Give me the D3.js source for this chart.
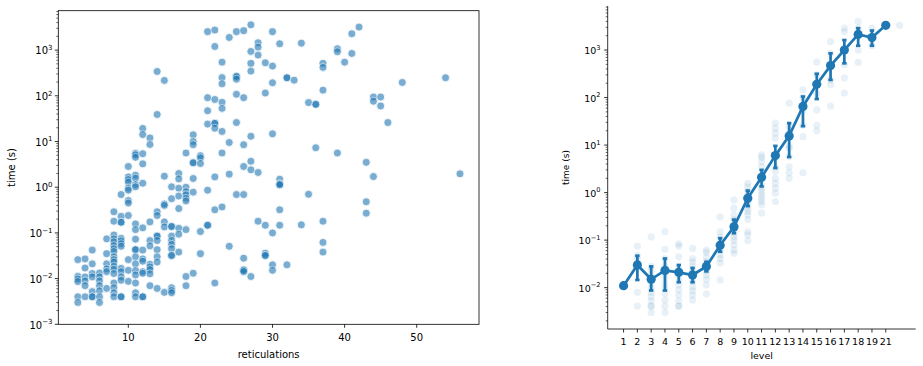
<!DOCTYPE html>
<html>
<head>
<meta charset="utf-8">
<script src="https://cdn.jsdelivr.net/npm/d3@7"></script>
<style>
  html, body { margin: 0; padding: 0; background: #fff; }
  svg { display: block; }
  text { font-family: "DejaVu Sans", sans-serif; fill: #000; }
</style>
</head>
<body>
<svg id="chart" width="923" height="366"></svg>
<script>
// ---------------- DATA ----------------
// Left panel: time (s) vs reticulations, grouped by reticulation count
const reticulationGroups = [3, 4, 5, 6, 7, 8, 9, 10, 11, 12, 13, 14, 15, 16, 17, 18, 19, 20, 21, 22, 23, 24, 25, 26, 27, 28, 29, 30, 31, 32, 33, 34, 35, 36, 37, 39, 40, 41, 42, 43, 44, 45, 46, 48, 54, 56];
const timeGroups = [
  [0.026, 0.0112, 0.0098, 0.0086, 0.0040, 0.0030],
  [0.027, 0.0171, 0.0109, 0.0089, 0.0070, 0.0040],
  [0.042, 0.021, 0.0129, 0.0109, 0.0052, 0.0040, 0.0040],
  [0.0133, 0.0109, 0.0089, 0.0070, 0.0054, 0.0040, 0.0030],
  [0.074, 0.035, 0.021, 0.0163, 0.0142, 0.0061],
  [0.29, 0.18, 0.090, 0.074, 0.064, 0.053, 0.045, 0.039, 0.030, 0.026, 0.023, 0.0186, 0.0160, 0.0129, 0.0080, 0.0063, 0.0049, 0.0040],
  [0.69, 0.23, 0.171, 0.171, 0.076, 0.067, 0.058, 0.051, 0.0168, 0.0142, 0.0109, 0.0092, 0.0040, 0.0040],
  [2.84, 1.68, 1.47, 1.29, 0.95, 0.86, 0.51, 0.45, 0.24, 0.026, 0.0152, 0.0087],
  [5.5, 5.1, 4.5, 1.83, 1.57, 1.14, 1.02, 0.157, 0.118, 0.073, 0.043, 0.043, 0.030, 0.021, 0.015, 0.012, 0.0080, 0.0049, 0.0040],
  [19.3, 14.2, 5.4, 3.24, 1.22, 0.129, 0.042, 0.027, 0.024, 0.0142, 0.0131, 0.0040, 0.0040],
  [12.0, 8.6, 0.174, 0.068, 0.052, 0.0206, 0.018, 0.0157, 0.0127, 0.0070],
  [341, 39, 0.29, 0.24, 0.085, 0.085, 0.068, 0.043, 0.030, 0.023, 0.0061],
  [217, 1.74, 0.43, 0.40, 0.174, 0.135, 0.0050],
  [1.02, 0.56, 0.138, 0.138, 0.085, 0.068, 0.056, 0.045, 0.032, 0.032, 0.0063, 0.0055, 0.0049],
  [1.99, 1.52, 0.95, 0.64, 0.34, 0.126, 0.094, 0.038],
  [5.6, 1.0, 0.80, 0.68, 0.57, 0.50, 0.118, 0.0111, 0.0070],
  [14, 10, 8.5, 3.5, 3.4, 1.55, 0.78, 0.0131],
  [4.9, 4.4, 3.3, 0.107, 0.035],
  [2520, 91, 47, 24, 0.86, 0.147, 0.147],
  [2740, 1200, 83, 25, 25, 19.5, 1.68, 0.32, 0.0080],
  [545, 250, 183, 72, 53, 16.6, 5.6, 0.37],
  [1890, 9.5, 1.93, 0.051],
  [2520, 265, 265, 231, 108, 26, 0.69],
  [2650, 91, 8.5, 2.84, 0.69, 0.028, 0.0157, 0.0152, 0.0142],
  [3570, 935, 510, 347, 13, 3.7, 2.4, 0.0111],
  [1450, 1160, 777, 2.1, 0.18],
  [528, 115, 0.147, 0.036, 0.032, 0.032],
  [2520, 446, 193, 14.7, 0.100, 0.020, 0.0152],
  [1375, 1.50, 1.18, 1.18, 1.12, 0.32, 0.147],
  [248, 248, 0.020],
  [220],
  [1420, 0.15],
  [71, 0.70],
  [65, 65, 7.3],
  [510, 418, 133, 0.18, 0.062, 0.038],
  [1070, 920, 5.6],
  [545],
  [2280, 845],
  [3190],
  [3.5, 0.48, 0.27],
  [94, 76, 1.71],
  [94, 60],
  [26],
  [196],
  [248],
  [1.96]
];
const leftXTicks = [10, 20, 30, 40, 50];
const logTickExps = [-3, -2, -1, 0, 1, 2, 3];

// Right panel: time (s) per level
const levels = ["1", "2", "3", "4", "5", "6", "7", "8", "9", "10", "11", "12", "13", "14", "15", "16", "17", "18", "19", "21"];
const meanTime = [0.011, 0.030, 0.015, 0.023, 0.021, 0.0185, 0.028, 0.078, 0.19, 0.76, 2.1, 6.0, 15.6, 65, 190, 470, 1000, 2130, 1830, 3310];
const ciLow  = [null, 0.0145, 0.0087, 0.0087, 0.013, 0.013, 0.022, 0.057, 0.14, 0.52, 1.35, 3.3, 5.6, 25, 93, 235, 525, 1230, 1230, null];
const ciHigh = [null, 0.047, 0.028, 0.041, 0.030, 0.026, 0.035, 0.11, 0.27, 1.1, 3.0, 9.6, 29, 105, 316, 850, 1620, 2880, 2570, null];
const levelRuns = [
  [0.011],
  [0.075, 0.047, 0.039, 0.028, 0.0080, 0.0041],
  [0.117, 0.028, 0.0237, 0.0177, 0.0122, 0.0097, 0.0079, 0.0065, 0.0053, 0.0041, 0.0041, 0.0030],
  [0.151, 0.064, 0.041, 0.028, 0.0229, 0.0171, 0.0124, 0.0097, 0.0076, 0.0055, 0.0041, 0.0030],
  [0.083, 0.075, 0.0445, 0.0256, 0.0185, 0.0145, 0.0114, 0.0089, 0.0070, 0.0053, 0.0041, 0.0041],
  [0.067, 0.041, 0.035, 0.028, 0.0225, 0.0171, 0.0134, 0.0105, 0.0086, 0.0070, 0.0055],
  [0.062, 0.055, 0.0435, 0.035, 0.028, 0.0225, 0.0185, 0.015, 0.0114, 0.0074],
  [0.31, 0.15, 0.117, 0.079, 0.062, 0.049, 0.041, 0.033, 0.0145],
  [0.70, 0.47, 0.34, 0.27, 0.21, 0.18, 0.14, 0.117, 0.099, 0.079, 0.062, 0.053],
  [1.57, 1.30, 1.05, 0.89, 0.76, 0.65, 0.55, 0.47, 0.40, 0.34, 0.27, 0.15, 0.129, 0.098],
  [6.2, 5.5, 4.5, 3.5, 1.45, 1.24, 1.05, 0.89, 0.76, 0.65, 0.55, 0.37],
  [29, 22.6, 17.8, 13.9, 3.5, 2.8, 2.0, 1.57, 1.24, 0.97, 0.65],
  [76, 25, 18, 9.4, 8.6, 5.7, 3.5, 2.6, 2.0],
  [145, 100, 55, 26, 15, 2.6],
  [560, 300, 200, 120, 55, 26, 20],
  [1500, 850, 450, 235, 185, 66],
  [2900, 2450, 1000, 490, 260, 124],
  [4000, 2900, 2100, 1000, 550],
  [2900, 1230, 1800],
  [3310]
];
const rightLogTickExps = [-2, -1, 0, 1, 2, 3];

// ---------------- DRAW ----------------
const svg = d3.select("#chart");
const blue = "#1f77b4";
const supMap = {"-": "\u2212"};

function logAxisY(g, y, exps, x0, labelX, fontSize, domain) {
  const [lo, hi] = domain;
  // minor ticks
  const minors = [];
  for (let e = Math.floor(Math.log10(lo)); e <= Math.ceil(Math.log10(hi)); e++) {
    for (let m = 2; m <= 9; m++) {
      const v = m * Math.pow(10, e);
      if (v >= lo && v <= hi) minors.push(v);
    }
  }
  g.selectAll("line.minor").data(minors).join("line").attr("class", "minor")
    .attr("x1", x0).attr("x2", x0 - 2).attr("y1", d => y(d)).attr("y2", d => y(d))
    .attr("stroke", "#000").attr("stroke-width", 0.6);
  exps.forEach(e => {
    const v = Math.pow(10, e);
    if (v < lo * 0.999 || v > hi) return;
    const yy = y(v);
    g.append("line").attr("x1", x0).attr("x2", x0 - 3.5).attr("y1", yy).attr("y2", yy)
      .attr("stroke", "#000").attr("stroke-width", 0.8);
    const t = g.append("text").attr("x", labelX).attr("y", yy + 4.3)
      .attr("text-anchor", "end").style("font-size", fontSize + "px");
    t.append("tspan").text("10");
    t.append("tspan").attr("dy", -4.5).style("font-size", (fontSize * 0.7) + "px")
      .text(String(e).replace("-", "\u2212"));
  });
}

// ---- Left panel ----
{
  const L = 58.3, R = 479, T = 10.7, B = 324.3;
  const x = d3.scaleLinear().domain([0.29, 58.64]).range([L, R]);
  const yDom = [1e-3, Math.pow(10, 3.862)];
  const y = d3.scaleLog().domain(yDom).range([B, T]);
  const g = svg.append("g");

  const pts = [];
  reticulationGroups.forEach((r, i) => timeGroups[i].forEach(t => pts.push([r, t])));

  g.append("g").selectAll("circle").data(pts).join("circle")
    .attr("cx", d => x(d[0])).attr("cy", d => y(d[1])).attr("r", 4)
    .attr("fill", blue).attr("stroke", "#fff").attr("stroke-width", 0.8)
    .attr("opacity", 0.6);

  // frame
  g.append("rect").attr("x", L).attr("y", T).attr("width", R - L).attr("height", B - T)
    .attr("fill", "none").attr("stroke", "#000").attr("stroke-width", 0.8);

  // x ticks
  leftXTicks.forEach(v => {
    g.append("line").attr("x1", x(v)).attr("x2", x(v)).attr("y1", B).attr("y2", B + 3.5)
      .attr("stroke", "#000").attr("stroke-width", 0.8);
    g.append("text").attr("x", x(v)).attr("y", B + 16.5).attr("text-anchor", "middle")
      .style("font-size", "10px").text(v);
  });
  g.append("text").attr("x", (L + R) / 2).attr("y", 357.5).attr("text-anchor", "middle")
    .style("font-size", "10px").text("reticulations");

  logAxisY(g, y, logTickExps, L, 52.5, 10, yDom);
  g.append("text").attr("transform", `translate(14.5,${(T + B) / 2}) rotate(-90)`)
    .attr("text-anchor", "middle").style("font-size", "10px").text("time (s)");
}

// ---- Right panel ----
{
  const L = 607.7, R = 915.7, T = 6, B = 329;
  const x = d3.scaleLinear().domain([-1.15, 21.17]).range([L, R]);
  const yDom = [Math.pow(10, -2.87), Math.pow(10, 3.926)];
  const y = d3.scaleLog().domain(yDom).range([B, T]);
  const g = svg.append("g");

  // faint individual runs (positioned at numeric level - 1)
  const runs = [];
  levels.forEach((lv, i) => levelRuns[i].forEach(t => runs.push([+lv - 1, t])));
  g.append("g").selectAll("circle").data(runs).join("circle")
    .attr("cx", d => x(d[0])).attr("cy", d => y(d[1])).attr("r", 3.6)
    .attr("fill", blue).attr("opacity", 0.1);

  // mean line
  const line = d3.line().x((d, i) => x(i)).y(d => y(d));
  g.append("path").datum(meanTime).attr("d", line)
    .attr("fill", "none").attr("stroke", blue).attr("stroke-width", 2.7);

  // error bars
  levels.forEach((lv, i) => {
    if (ciLow[i] == null) return;
    const xx = x(i);
    g.append("line").attr("x1", xx).attr("x2", xx).attr("y1", y(ciLow[i])).attr("y2", y(ciHigh[i]))
      .attr("stroke", blue).attr("stroke-width", 2.7);
    [ciLow[i], ciHigh[i]].forEach(v => {
      g.append("line").attr("x1", xx - 2.2).attr("x2", xx + 2.2).attr("y1", y(v)).attr("y2", y(v))
        .attr("stroke", blue).attr("stroke-width", 2.7);
    });
  });

  g.append("g").selectAll("circle").data(meanTime).join("circle")
    .attr("cx", (d, i) => x(i)).attr("cy", d => y(d)).attr("r", 4.6).attr("fill", blue);

  // spines
  g.append("line").attr("x1", L).attr("x2", L).attr("y1", T).attr("y2", B)
    .attr("stroke", "#000").attr("stroke-width", 0.8);
  g.append("line").attr("x1", L).attr("x2", R).attr("y1", B).attr("y2", B)
    .attr("stroke", "#000").attr("stroke-width", 0.8);

  levels.forEach((lv, i) => {
    g.append("line").attr("x1", x(i)).attr("x2", x(i)).attr("y1", B).attr("y2", B + 3.5)
      .attr("stroke", "#000").attr("stroke-width", 0.8);
    g.append("text").attr("x", x(i)).attr("y", B + 16).attr("text-anchor", "middle")
      .style("font-size", "9.5px").text(lv);
  });
  g.append("text").attr("x", (L + R) / 2).attr("y", 359).attr("text-anchor", "middle")
    .style("font-size", "9.5px").text("level");

  logAxisY(g, y, rightLogTickExps, L, 600.5, 9.5, yDom);
  g.append("text").attr("transform", `translate(568.5,${(T + B) / 2}) rotate(-90)`)
    .attr("text-anchor", "middle").style("font-size", "9px").text("time (s)");
}
</script>
</body>
</html>
